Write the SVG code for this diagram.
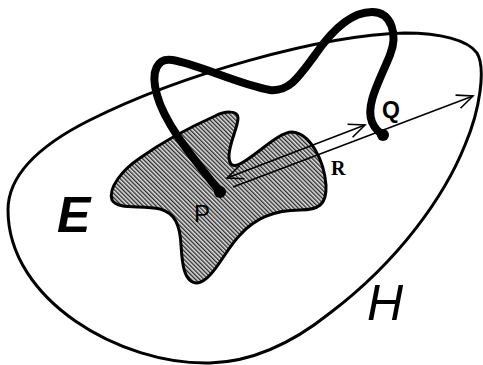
<svg xmlns="http://www.w3.org/2000/svg" width="483" height="365" viewBox="0 0 483 365">
<defs>
<pattern id="hatch" width="3" height="3" patternUnits="userSpaceOnUse" patternTransform="rotate(-45)">
<rect width="3" height="3" fill="#e0e0e0"/>
<line x1="0.7" y1="0" x2="0.7" y2="3" stroke="#222" stroke-width="1.3"/>
</pattern>
<marker id="arr" markerUnits="userSpaceOnUse" markerWidth="24" markerHeight="20" refX="18" refY="10" orient="auto-start-reverse" viewBox="0 0 24 20">
<path d="M2,3 L18,10 L2,17" fill="none" stroke="#000" stroke-width="1.6"/>
</marker>
<style>
.outline{fill:none;stroke:#000;stroke-width:3}
.blob{fill:url(#hatch);stroke:#000;stroke-width:3;stroke-linejoin:round}
.curve{fill:none;stroke:#000;stroke-width:8;stroke-linecap:round}
.ray{fill:none;stroke:#000;stroke-width:1.6}
.dot{fill:#000}
.lbl{font-family:"Liberation Sans",Arial,sans-serif;fill:#000}
</style>
</defs>
<g id="H-region">
<path class="outline" d="M8,210 C8,175 40,145 90,120 C180,75 320,35 405,33 C440,33 468,40 477,53 C486,68 480,110 465,145 C445,195 400,260 330,313 C290,345 250,362 210,363 C120,365 8,300 8,210 Z"/>
<text class="lbl" x="367" y="320" font-size="50" font-style="italic">H</text>
</g>
<g id="E-region">
<path class="blob" d="M215,116 C225,111 238,110 238,118 C238,128 228,145 229,158 C230,168 236,167 245,161 C262,150 280,132 292,132 C310,133 324,160 326,185 C327,205 318,210 300,210 C275,210 255,218 240,235 C225,250 212,282 197,283 C183,283 182,260 181,245 C180,225 175,213 160,209 C140,205 118,210 112,200 C108,188 122,170 140,158 C165,140 195,125 215,116 Z"/>
<text class="lbl" x="57" y="232" font-size="50" font-style="italic" font-weight="bold">E</text>
</g>
<g id="connectors">
<path class="curve" d="M220,192 C195,160 165,125 157,95 C150,70 158,58 172,60 C195,63 240,85 270,90 C290,92 300,75 315,55 C330,33 350,12 372,12 C392,12 398,35 390,55 C380,80 365,105 372,122 C375,130 383,135 383,135"/>
<line class="ray" x1="227" y1="178" x2="365" y2="125" marker-start="url(#arr)" marker-end="url(#arr)"/>
<line class="ray" x1="233" y1="187" x2="473" y2="96" marker-end="url(#arr)"/>
</g>
<g id="P">
<circle class="dot" cx="220" cy="192" r="6"/>
<text class="lbl" x="194" y="222" font-size="24">P</text>
</g>
<g id="Q">
<circle class="dot" cx="383" cy="135" r="6"/>
<text class="lbl" x="382" y="118" font-size="23" font-weight="bold">Q</text>
</g>
<g id="R">
<text x="331" y="175" font-size="20" font-weight="bold" font-family="'Liberation Serif','Times New Roman',serif">R</text>
</g>
</svg>
